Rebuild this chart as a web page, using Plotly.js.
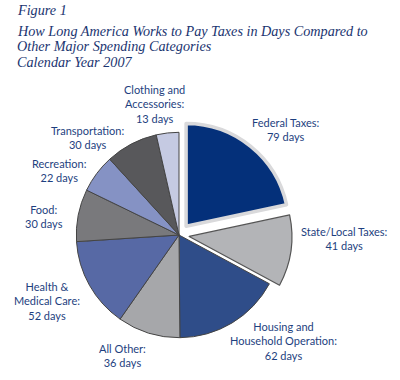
<!DOCTYPE html>
<html>
<head>
<meta charset="utf-8">
<script src="https://cdn.plot.ly/plotly-3.0.1.min.js"></script>
<style>html,body{margin:0;padding:0;background:#fff}#chart{width:400px;height:380px}</style>
</head>
<body>
<div id="chart"></div>
<script>
var categories = ["Federal Taxes", "State/Local Taxes", "Housing and<br>Household Operation", "All Other", "Health &<br>Medical Care", "Food", "Recreation", "Transportation", "Clothing and<br>Accessories"];
var days = [79, 41, 62, 36, 52, 30, 22, 30, 13];
var sliceColors = ["#04307a", "#b3b4b7", "#2f4d89", "#a6a7aa", "#5769a5", "#79797c", "#8592c4", "#58585b", "#c5cae2"];
var pulls = [0.11, 0.1, 0, 0, 0, 0, 0, 0, 0];
var titleLines = ["Figure 1", "How Long America Works to Pay Taxes in Days Compared to", "Other Major Spending Categories", "Calendar Year 2007"];

// label anchor positions (pixels from top-left)
var labelPos = [[285,129],[344,239],[283,341],[122,355],[47,301],[44,216],[59,171],[87,137],[154,104]];

var W = 400, H = 380;
var annotations = [];
categories.forEach(function(c, i){
  annotations.push({
    xref: "paper", yref: "paper",
    x: labelPos[i][0]/W, y: 1 - labelPos[i][1]/H,
    xanchor: "center", yanchor: "middle",
    text: c + ":<br>" + days[i] + " days",
    showarrow: false, align: "center",
    font: {family: "Lato, sans-serif", size: 11, color: "#1e3f80"}
  });
});
var titleY = [10, 31, 46, 62];
titleLines.forEach(function(t, i){
  annotations.push({
    xref: "paper", yref: "paper",
    x: 15/W, y: 1 - titleY[i]/H,
    xanchor: "left", yanchor: "middle",
    text: t, showarrow: false,
    font: {family: "Liberation Serif, serif", size: 14.2, color: "#1a3470", style: "italic"}
  });
});

var cx = 179, cy = 235, half = 114;
var data = [{
  type: "pie",
  labels: categories,
  values: days,
  sort: false,
  direction: "clockwise",
  rotation: 0,
  pull: pulls,
  textinfo: "none",
  hoverinfo: "label+value",
  marker: {
    colors: sliceColors,
    line: {color: ["#d9d9db", "#555", "#444", "#444", "#444", "#444", "#444", "#444", "#444"], width: [3.5, 1.2, 1, 1, 1, 1, 1, 1, 1]}
  },
  domain: {x: [(cx-half)/W, (cx+half)/W], y: [(H-cy-half)/H, (H-cy+half)/H]}
}];

var layout = {
  width: W, height: H,
  margin: {l: 0, r: 0, t: 0, b: 0},
  showlegend: false,
  paper_bgcolor: "#fff",
  annotations: annotations
};
Plotly.newPlot("chart", data, layout, {displayModeBar: false, staticPlot: true});
</script>
</body>
</html>
